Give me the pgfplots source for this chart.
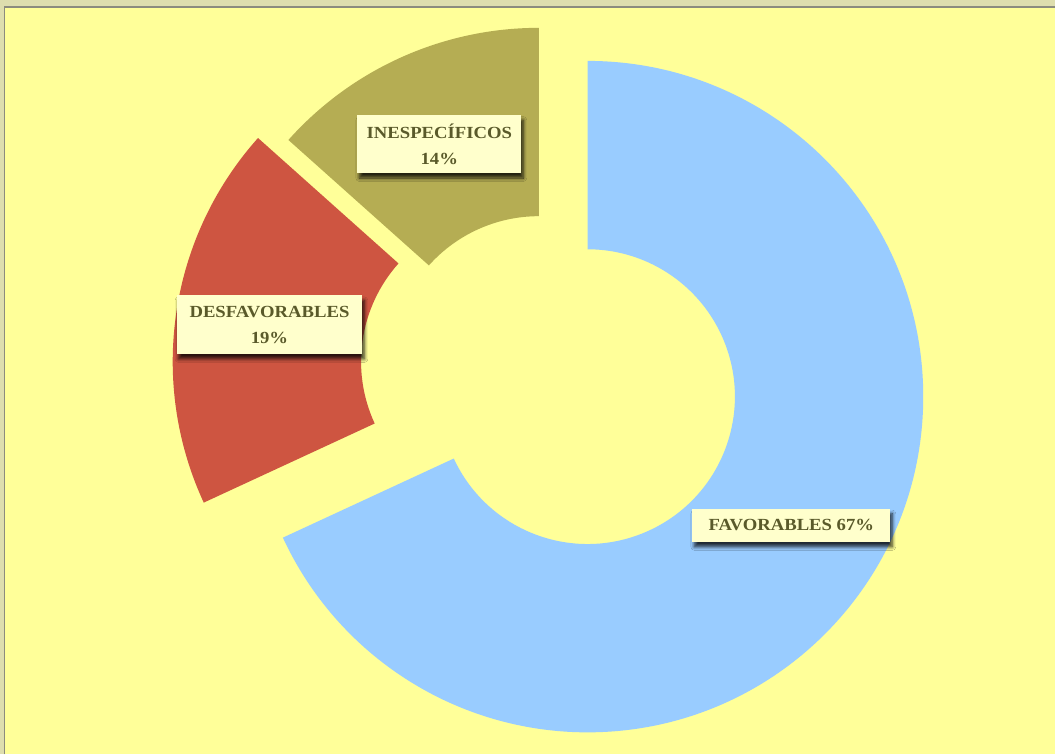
\documentclass[border=0pt]{standalone}
\usepackage{pgfplots}
\pgfplotsset{compat=1.18}
\usepackage{pgfplotstable}
\usepackage{fontspec}
\setmainfont{Liberation Serif}[FakeStretch=1.1]
\usetikzlibrary{calc,shadows.blur}

\definecolor{band}{HTML}{DEDEAE}
\definecolor{frameline}{HTML}{8C8C7E}
\definecolor{panel}{HTML}{FFFF99}
\definecolor{favc}{HTML}{99CCFF}
\definecolor{desc}{HTML}{CE5541}
\definecolor{inec}{HTML}{B5AD53}
\definecolor{boxc}{HTML}{FFFFCC}
\definecolor{txtc}{HTML}{5A5A2A}

% share of the ring (percent, as drawn) and how far each slice is pulled out (px)
\pgfplotstableread{
slice share explode
FAVORABLES 68.1 56.4
DESFAVORABLES 18.5 32
INESPECIFICOS 13.4 3
}\slices

\def\cx{540.5}\def\cy{388.4}
\def\rin{147.5pt}\def\rout{336pt}

\pgfplotstablegetelem{0}{share}\of\slices\let\shA\pgfplotsretval
\pgfplotstablegetelem{1}{share}\of\slices\let\shB\pgfplotsretval
\pgfplotstablegetelem{2}{share}\of\slices\let\shC\pgfplotsretval
\pgfplotstablegetelem{0}{explode}\of\slices\let\exA\pgfplotsretval
\pgfplotstablegetelem{1}{explode}\of\slices\let\exB\pgfplotsretval
\pgfplotstablegetelem{2}{explode}\of\slices\let\exC\pgfplotsretval

% first slice starts at 12 o'clock, slices run clockwise
\pgfmathsetmacro\aA{90}
\pgfmathsetmacro\aB{\aA-3.6*\shA}
\pgfmathsetmacro\aC{\aB-3.6*\shB}
\pgfmathsetmacro\aD{\aC-3.6*\shC}
\pgfmathsetmacro\mA{(\aA+\aB)/2}
\pgfmathsetmacro\mB{(\aB+\aC)/2}
\pgfmathsetmacro\mC{(\aC+\aD)/2}

% start, end, mid angle, explode, colour
\newcommand\slice[5]{%
  \fill[#5] ($(axis cs:\cx,\cy)+(#3:#4pt)+(#1:\rin)$)
    -- ($(axis cs:\cx,\cy)+(#3:#4pt)+(#1:\rout)$)
    arc[start angle=#1, end angle=#2, radius=\rout]
    -- ($(axis cs:\cx,\cy)+(#3:#4pt)+(#2:\rin)$)
    arc[start angle=#2, end angle=#1, radius=\rin] -- cycle;}

\tikzset{lbl/.style={fill=boxc, text=txtc, align=center, inner sep=0pt,
  font=\fontsize{17}{26}\selectfont\bfseries,
  blur shadow={shadow xshift=2pt, shadow yshift=-5pt, shadow opacity=80,
    shadow blur steps=6, shadow blur radius=3.5pt}}}

\begin{document}
\begin{tikzpicture}
\begin{axis}[
  x=1pt, y=1pt,
  xmin=0, xmax=1056, ymin=0, ymax=755,
  axis line style={draw=none},
  ticks=none,
  axis background/.style={fill=band},
  clip=false,
]
\fill[panel] (axis cs:5.5,0) rectangle (axis cs:1056,747);
\draw[frameline, line width=1.8pt] (axis cs:4.5,0) -- (axis cs:4.5,748) -- (axis cs:1056,748);

\slice{\aA}{\aB}{\mA}{\exA}{favc}
\slice{\aB}{\aC}{\mB}{\exB}{desc}
\slice{\aC}{\aD}{\mC}{\exC}{inec}

\node[lbl, minimum width=164pt, minimum height=58pt] at (axis cs:439.7,610.8) {INESPECÍFICOS\\14\%};
\node[lbl, minimum width=186pt, minimum height=58.6pt] at (axis cs:269.7,430) {DESFAVORABLES\\19\%};
\node[lbl, minimum width=198pt, minimum height=33.3pt] at (axis cs:792,229.3) {FAVORABLES 67\%};
\end{axis}
\end{tikzpicture}
\end{document}
